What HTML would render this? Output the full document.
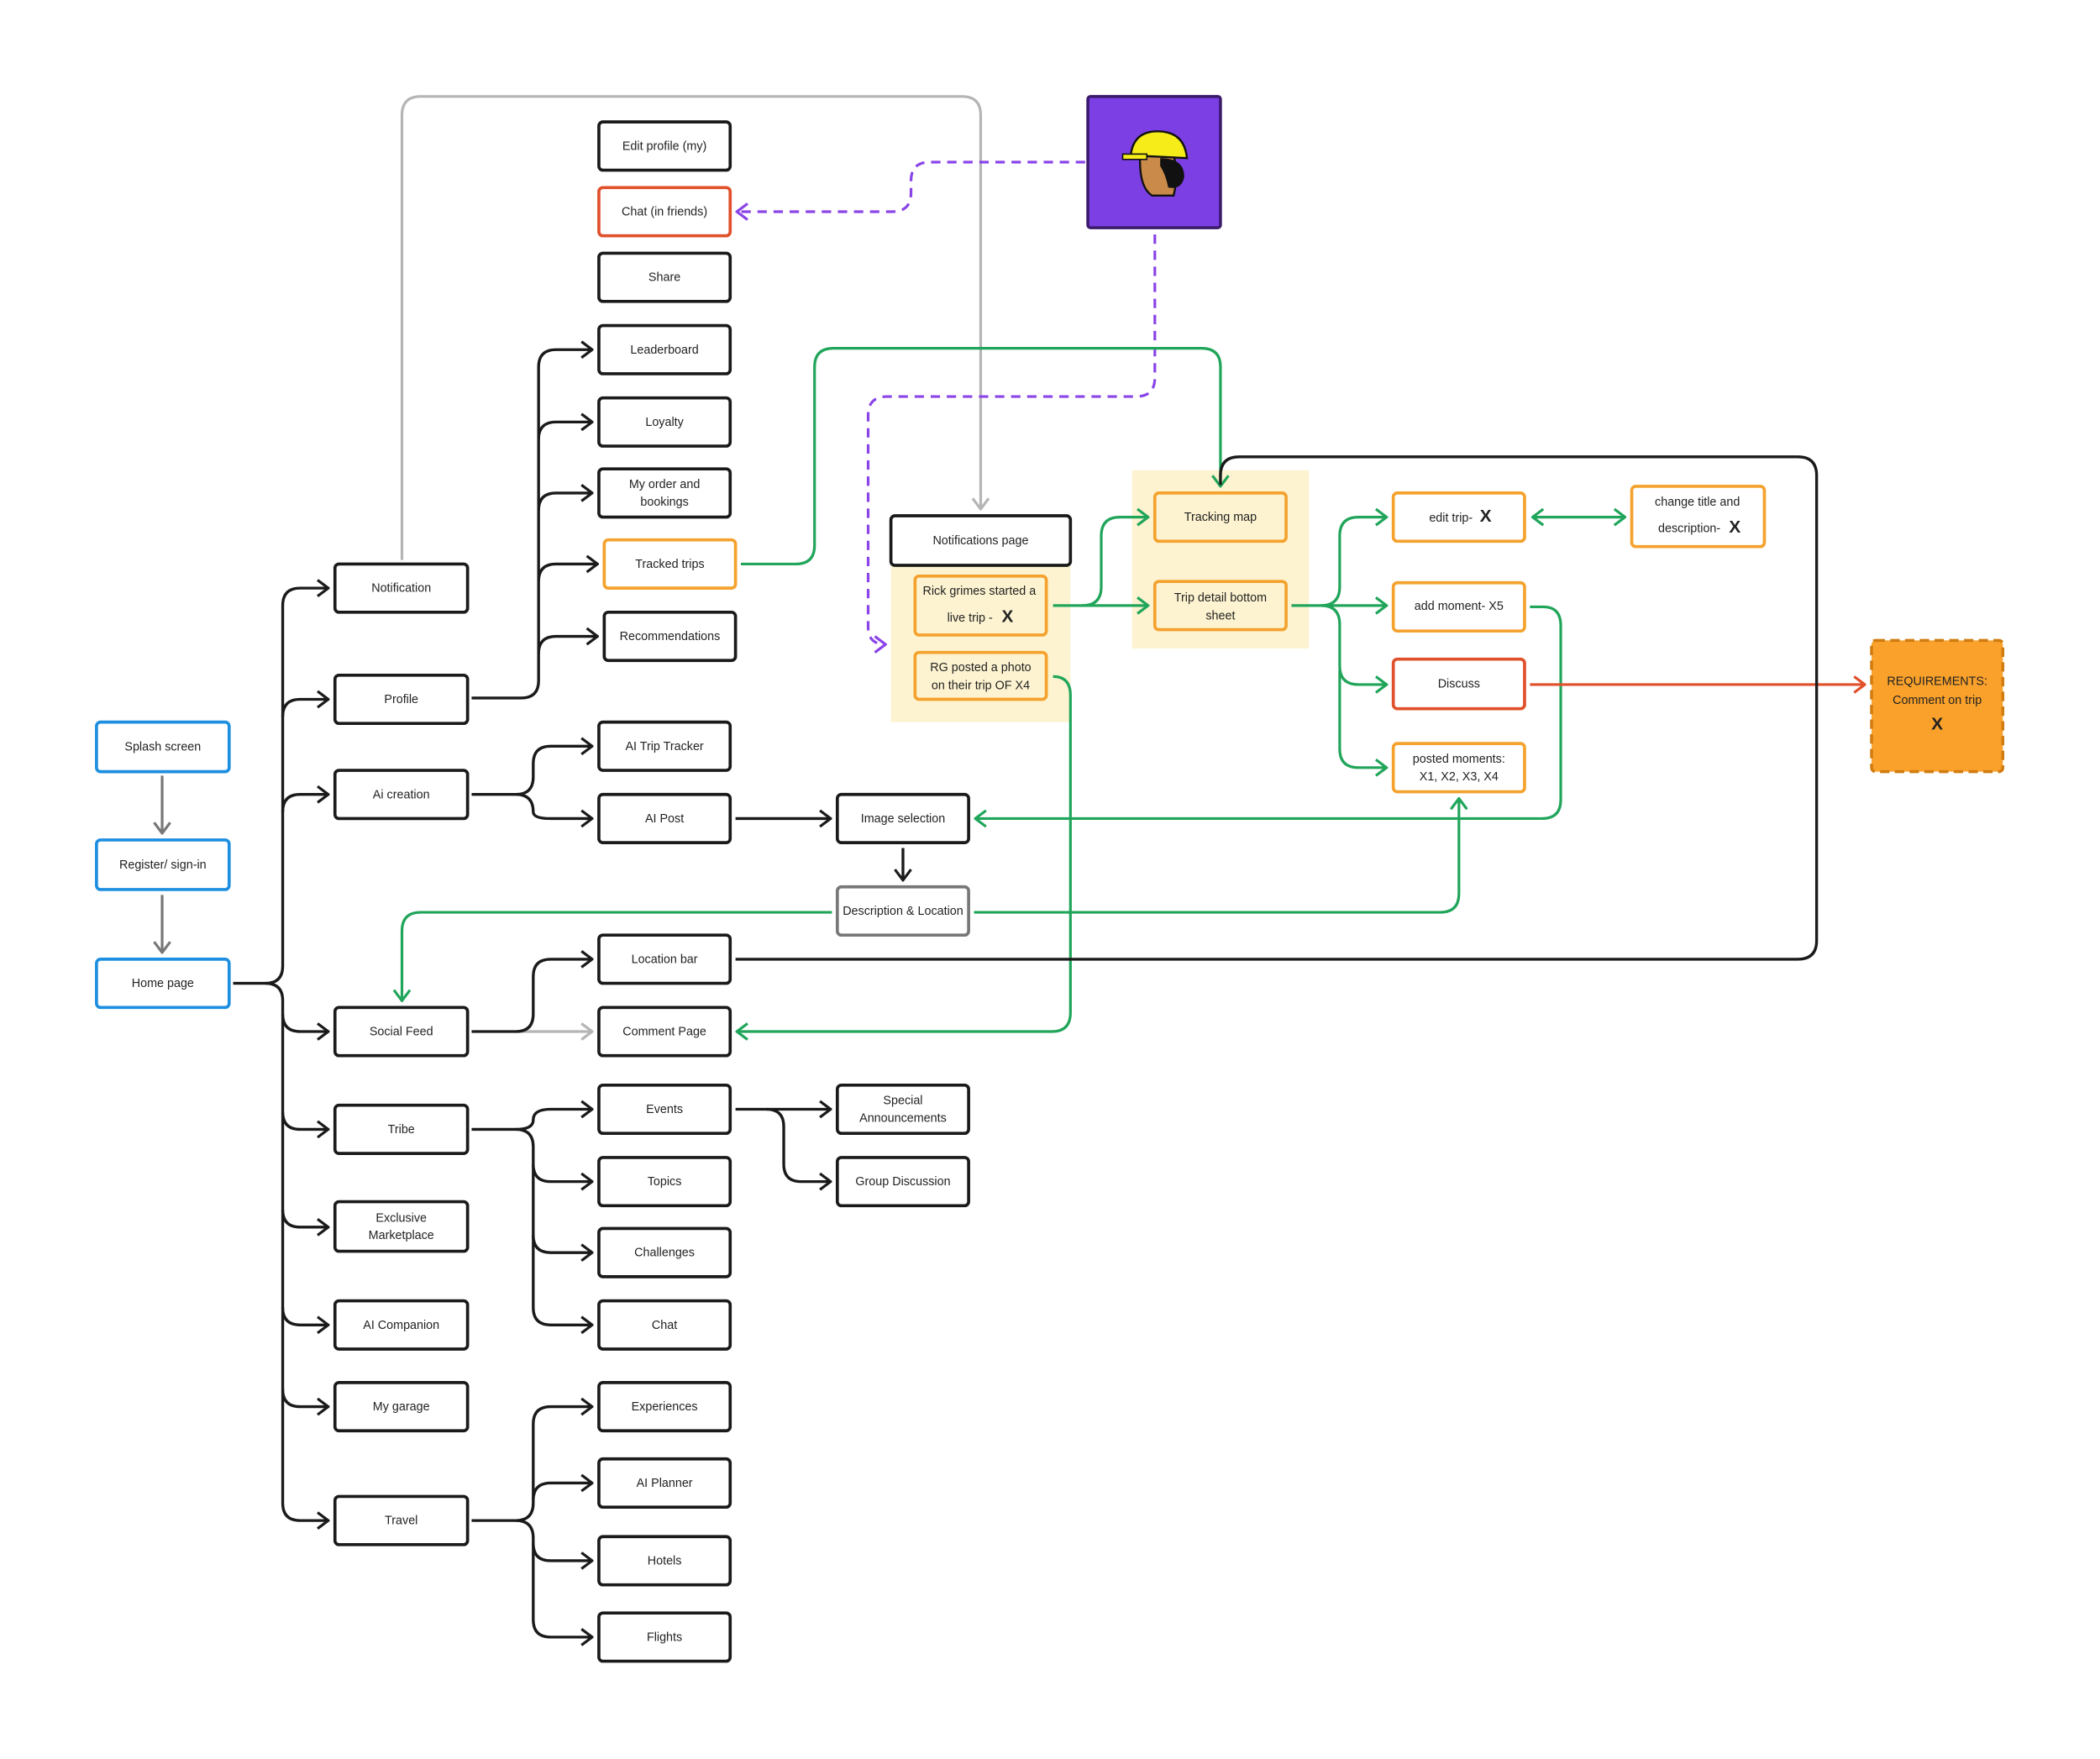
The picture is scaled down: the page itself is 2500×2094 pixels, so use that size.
<!DOCTYPE html>
<html><head><meta charset="utf-8"><style>
html,body{margin:0;padding:0;background:#fff;}
svg{display:block;}
text{font-family:"Liberation Sans",sans-serif;font-size:9px;fill:#222;text-anchor:middle;dominant-baseline:middle;}
.b{fill:#fff;stroke:#1a1a1a;stroke-width:2.3;}
.bl{fill:#fff;stroke:#1e8fe0;stroke-width:2.3;}
.o{fill:#fff;stroke:#f4a22d;stroke-width:2.3;}
.oy{fill:#fdf3d0;stroke:#f4a22d;stroke-width:2.3;}
.r{fill:#fff;stroke:#e0502a;stroke-width:2.3;}
.g{fill:#fff;stroke:#777;stroke-width:2.3;}
.k{fill:none;stroke:#1a1a1a;stroke-width:2.1;}
.gr{fill:none;stroke:#20a55a;stroke-width:2;}
.gy{fill:none;stroke:#777;stroke-width:2;}
.lg{fill:none;stroke:#b5b5b5;stroke-width:2;}
.pu{fill:none;stroke:#8a44e8;stroke-width:2;stroke-dasharray:7 5;}
.rd{fill:none;stroke:#e0502a;stroke-width:2;}
.X{font-weight:bold;font-size:13px;}
</style></head><body>
<svg width="2500" height="2094" viewBox="0 0 1567.5 1313" xmlns="http://www.w3.org/2000/svg">
<defs>
<marker id="mk" viewBox="0 0 10 14" refX="9" refY="7" markerWidth="10" markerHeight="14" markerUnits="userSpaceOnUse" orient="auto-start-reverse"><path d="M1,1 L9,7 L1,13" fill="none" stroke="#1a1a1a" stroke-width="2"/></marker>
<marker id="mg" viewBox="0 0 10 14" refX="9" refY="7" markerWidth="10" markerHeight="14" markerUnits="userSpaceOnUse" orient="auto-start-reverse"><path d="M1,1 L9,7 L1,13" fill="none" stroke="#20a55a" stroke-width="2"/></marker>
<marker id="my" viewBox="0 0 10 14" refX="9" refY="7" markerWidth="10" markerHeight="14" markerUnits="userSpaceOnUse" orient="auto-start-reverse"><path d="M1,1 L9,7 L1,13" fill="none" stroke="#777" stroke-width="2"/></marker>
<marker id="ml" viewBox="0 0 10 14" refX="9" refY="7" markerWidth="10" markerHeight="14" markerUnits="userSpaceOnUse" orient="auto-start-reverse"><path d="M1,1 L9,7 L1,13" fill="none" stroke="#b5b5b5" stroke-width="2"/></marker>
<marker id="mp" viewBox="0 0 10 14" refX="9" refY="7" markerWidth="10" markerHeight="14" markerUnits="userSpaceOnUse" orient="auto-start-reverse"><path d="M1,1 L9,7 L1,13" fill="none" stroke="#8a44e8" stroke-width="2"/></marker>
<marker id="mr" viewBox="0 0 10 14" refX="9" refY="7" markerWidth="10" markerHeight="14" markerUnits="userSpaceOnUse" orient="auto-start-reverse"><path d="M1,1 L9,7 L1,13" fill="none" stroke="#e0502a" stroke-width="2"/></marker>
</defs>

<rect x="665" y="420" width="134" height="119" fill="#fdf3d0"/>
<rect x="845" y="351" width="132" height="133" fill="#fdf3d0"/>

<path class="gy" d="M121,579 V622" marker-end="url(#my)"/>
<path class="gy" d="M121,668 V711" marker-end="url(#my)"/>
<path class="k" d="M174,734 H198 Q211,734 211,721 V452 Q211,439 224,439 H245" marker-end="url(#mk)"/>
<path class="k" d="M198,734 Q211,734 211,747 V1122 Q211,1135 224,1135 H245" marker-end="url(#mk)"/>
<path class="k" d="M211,535 Q211,522 224,522 H245" marker-end="url(#mk)"/>
<path class="k" d="M211,606 Q211,593 224,593 H245" marker-end="url(#mk)"/>
<path class="k" d="M211,757 Q211,770 224,770 H245" marker-end="url(#mk)"/>
<path class="k" d="M211,830 Q211,843 224,843 H245" marker-end="url(#mk)"/>
<path class="k" d="M211,903 Q211,916 224,916 H245" marker-end="url(#mk)"/>
<path class="k" d="M211,976 Q211,989 224,989 H245" marker-end="url(#mk)"/>
<path class="k" d="M211,1037 Q211,1050 224,1050 H245" marker-end="url(#mk)"/>
<path class="k" d="M352,521 H389 Q402,521 402,508 V274 Q402,261 415,261 H442" marker-end="url(#mk)"/>
<path class="k" d="M402,328 Q402,315 415,315 H442" marker-end="url(#mk)"/>
<path class="k" d="M402,381 Q402,368 415,368 H442" marker-end="url(#mk)"/>
<path class="k" d="M402,434 Q402,421 415,421 H446" marker-end="url(#mk)"/>
<path class="k" d="M402,488 Q402,475 415,475 H446" marker-end="url(#mk)"/>
<path class="k" d="M352,593 H385 Q398,593 398,580 V570 Q398,557 411,557 H442" marker-end="url(#mk)"/>
<path class="k" d="M385,593 Q398,593 398,606 Q398,611 411,611 H442" marker-end="url(#mk)"/>
<path class="k" d="M549,611 H620" marker-end="url(#mk)"/>
<path class="k" d="M674,633 V657" marker-end="url(#mk)"/>
<path class="lg" d="M385,770 H442" marker-end="url(#ml)"/>
<path class="k" d="M352,770 H385 Q398,770 398,757 V729 Q398,716 411,716 H442" marker-end="url(#mk)"/>
<path class="k" d="M352,843 H385 Q398,843 398,836 Q398,828 411,828 H442" marker-end="url(#mk)"/>
<path class="k" d="M385,843 Q398,843 398,856 V976 Q398,989 411,989 H442" marker-end="url(#mk)"/>
<path class="k" d="M398,869 Q398,882 411,882 H442" marker-end="url(#mk)"/>
<path class="k" d="M398,922 Q398,935 411,935 H442" marker-end="url(#mk)"/>
<path class="k" d="M549,828 H620" marker-end="url(#mk)"/>
<path class="k" d="M572,828 Q585,828 585,841 V869 Q585,882 598,882 H620" marker-end="url(#mk)"/>
<path class="k" d="M352,1135 H385 Q398,1135 398,1122 V1063 Q398,1050 411,1050 H442" marker-end="url(#mk)"/>
<path class="k" d="M385,1135 Q398,1135 398,1148 V1209 Q398,1222 411,1222 H442" marker-end="url(#mk)"/>
<path class="k" d="M398,1120 Q398,1107 411,1107 H442" marker-end="url(#mk)"/>
<path class="k" d="M398,1152 Q398,1165 411,1165 H442" marker-end="url(#mk)"/>
<path class="lg" d="M300,418 V86 Q300,72 314,72 H718 Q732,72 732,86 V380" marker-end="url(#ml)"/>
<path class="pu" d="M810,121 H694 Q680,121 680,135 V144 Q680,158 666,158 H550" marker-end="url(#mp)"/>
<path class="pu" d="M862,175 V282 Q862,296 848,296 H662 Q648,296 648,310 V468 Q648,481 661,481" marker-end="url(#mp)"/>
<path class="gr" d="M553,421 H594 Q608,421 608,407 V274 Q608,260 622,260 H897 Q911,260 911,274 V363" marker-end="url(#mg)"/>
<path class="gr" d="M786,452 H857" marker-end="url(#mg)"/>
<path class="gr" d="M808,452 Q822,452 822,438 V400 Q822,386 836,386 H857" marker-end="url(#mg)"/>
<path class="gr" d="M964,452 H1035" marker-end="url(#mg)"/>
<path class="gr" d="M986,452 Q1000,452 1000,438 V400 Q1000,386 1014,386 H1035" marker-end="url(#mg)"/>
<path class="gr" d="M986,452 Q1000,452 1000,466 V497 Q1000,511 1014,511 H1035" marker-end="url(#mg)"/>
<path class="gr" d="M1000,500 V559 Q1000,573 1014,573 H1035" marker-end="url(#mg)"/>
<path class="gr" d="M1144,386 H1213" marker-start="url(#mg)" marker-end="url(#mg)"/>
<path class="gr" d="M1142,453 H1152 Q1165,453 1165,467 V597 Q1165,611 1151,611 H728" marker-end="url(#mg)"/>
<path class="gr" d="M786,505 Q799,505 799,519 V756 Q799,770 785,770 H550" marker-end="url(#mg)"/>
<path class="gr" d="M621,681 H314 Q300,681 300,695 V747" marker-end="url(#mg)"/>
<path class="gr" d="M727,681 H1075 Q1089,681 1089,667 V596" marker-end="url(#mg)"/>
<path class="rd" d="M1142,511 H1392" marker-end="url(#mr)"/>
<path class="k" d="M549,716 H1342 Q1356,716 1356,702 V355 Q1356,341 1342,341 H925 Q911,341 911,355 V362"/>

<rect class="bl" x="72" y="539" width="99" height="37" rx="3"/><text x="121.5" y="558">Splash screen</text>
<rect class="bl" x="72" y="627" width="99" height="37" rx="3"/><text x="121.5" y="646">Register/ sign-in</text>
<rect class="bl" x="72" y="716" width="99" height="36" rx="3"/><text x="121.5" y="734.5">Home page</text>

<rect class="b" x="250" y="421" width="99" height="36" rx="3"/><text x="299.5" y="439.5">Notification</text>
<rect class="b" x="250" y="504" width="99" height="36" rx="3"/><text x="299.5" y="522.5">Profile</text>
<rect class="b" x="250" y="575" width="99" height="36" rx="3"/><text x="299.5" y="593.5">Ai creation</text>
<rect class="b" x="250" y="752" width="99" height="36" rx="3"/><text x="299.5" y="770.5">Social Feed</text>
<rect class="b" x="250" y="825" width="99" height="36" rx="3"/><text x="299.5" y="843.5">Tribe</text>
<rect class="b" x="250" y="897" width="99" height="37" rx="3"/><text x="299.5" y="909.5">Exclusive</text><text x="299.5" y="922.5">Marketplace</text>
<rect class="b" x="250" y="971" width="99" height="36" rx="3"/><text x="299.5" y="989.5">AI Companion</text>
<rect class="b" x="250" y="1032" width="99" height="36" rx="3"/><text x="299.5" y="1050.5">My garage</text>
<rect class="b" x="250" y="1117" width="99" height="36" rx="3"/><text x="299.5" y="1135.5">Travel</text>

<rect class="b" x="447" y="91" width="98" height="36" rx="3"/><text x="496" y="109.5">Edit profile (my)</text>
<rect class="r" x="447" y="140" width="98" height="36" rx="3"/><text x="496" y="158.5">Chat (in friends)</text>
<rect class="b" x="447" y="189" width="98" height="36" rx="3"/><text x="496" y="207.5">Share</text>
<rect class="b" x="447" y="243" width="98" height="36" rx="3"/><text x="496" y="261.5">Leaderboard</text>
<rect class="b" x="447" y="297" width="98" height="36" rx="3"/><text x="496" y="315.5">Loyalty</text>
<rect class="b" x="447" y="350" width="98" height="36" rx="3"/><text x="496" y="362">My order and</text><text x="496" y="375">bookings</text>
<rect class="o" x="451" y="403" width="98" height="36" rx="3"/><text x="500" y="421.5">Tracked trips</text>
<rect class="b" x="451" y="457" width="98" height="36" rx="3"/><text x="500" y="475.5">Recommendations</text>
<rect class="b" x="447" y="539" width="98" height="36" rx="3"/><text x="496" y="557.5">AI Trip Tracker</text>
<rect class="b" x="447" y="593" width="98" height="36" rx="3"/><text x="496" y="611.5">AI Post</text>
<rect class="b" x="447" y="698" width="98" height="36" rx="3"/><text x="496" y="716.5">Location bar</text>
<rect class="b" x="447" y="752" width="98" height="36" rx="3"/><text x="496" y="770.5">Comment Page</text>
<rect class="b" x="447" y="810" width="98" height="36" rx="3"/><text x="496" y="828.5">Events</text>
<rect class="b" x="447" y="864" width="98" height="36" rx="3"/><text x="496" y="882.5">Topics</text>
<rect class="b" x="447" y="917" width="98" height="36" rx="3"/><text x="496" y="935.5">Challenges</text>
<rect class="b" x="447" y="971" width="98" height="36" rx="3"/><text x="496" y="989.5">Chat</text>
<rect class="b" x="447" y="1032" width="98" height="36" rx="3"/><text x="496" y="1050.5">Experiences</text>
<rect class="b" x="447" y="1089" width="98" height="36" rx="3"/><text x="496" y="1107.5">AI Planner</text>
<rect class="b" x="447" y="1147" width="98" height="36" rx="3"/><text x="496" y="1165.5">Hotels</text>
<rect class="b" x="447" y="1204" width="98" height="36" rx="3"/><text x="496" y="1222.5">Flights</text>

<rect class="b" x="625" y="593" width="98" height="36" rx="3"/><text x="674" y="611.5">Image selection</text>
<rect class="g" x="625" y="662" width="98" height="36" rx="3"/><text x="674" y="680.5">Description &amp; Location</text>
<rect class="b" x="625" y="810" width="98" height="36" rx="3"/><text x="674" y="822">Special</text><text x="674" y="835">Announcements</text>
<rect class="b" x="625" y="864" width="98" height="36" rx="3"/><text x="674" y="882.5">Group Discussion</text>

<rect class="b" x="665" y="385" width="134" height="37" rx="3"/><text x="732" y="404">Notifications page</text>
<rect class="oy" x="683" y="430" width="98" height="44" rx="3"/><text x="731" y="441.5">Rick grimes started a</text><text x="724" y="461.5">live trip - </text><text class="X" x="752" y="461">X</text>
<rect class="oy" x="683" y="487" width="98" height="35" rx="3"/><text x="732" y="498.5">RG posted a photo</text><text x="732" y="512">on their trip OF X4</text>

<rect class="oy" x="862" y="368" width="98" height="36" rx="3"/><text x="911" y="386.5">Tracking map</text>
<rect class="oy" x="862" y="434" width="98" height="36" rx="3"/><text x="911" y="446.5">Trip detail bottom</text><text x="911" y="460">sheet</text>

<rect class="o" x="1040" y="368" width="98" height="36" rx="3"/><text x="1083" y="387">edit trip- </text><text class="X" x="1109" y="386">X</text>
<rect class="o" x="1218" y="363" width="99" height="45" rx="3"/><text x="1267" y="375">change title and</text><text x="1261" y="395">description- </text><text class="X" x="1295" y="394">X</text>
<rect class="o" x="1040" y="435" width="98" height="36" rx="3"/><text x="1089" y="453">add moment- X5</text>
<rect class="r" x="1040" y="492" width="98" height="37" rx="3"/><text x="1089" y="511">Discuss</text>
<rect class="o" x="1040" y="555" width="98" height="36" rx="3"/><text x="1089" y="567">posted moments:</text><text x="1089" y="580">X1, X2, X3, X4</text>

<rect x="1397" y="478" width="98" height="98" rx="3" fill="#f9a12b" stroke="#d07c10" stroke-width="2.2" stroke-dasharray="7 4"/>
<text x="1446" y="509">REQUIREMENTS:</text><text x="1446" y="523">Comment on trip</text><text class="X" x="1446" y="541">X</text>

<rect x="812" y="72" width="99" height="98" rx="2" fill="#7b3fe4" stroke="#3a1a6a" stroke-width="2.2"/>
<path d="M851,116 Q850,140 860,146 L876,146 Q880,130 876,116 Z" fill="#c98a4a" stroke="#111" stroke-width="1.5"/>
<path d="M866,118 Q884,118 884,132 Q882,142 872,140 Q870,130 866,124 Z" fill="#111"/>
<path d="M844,116 Q846,98 864,98 Q884,98 886,118 Z" fill="#f5ec1a" stroke="#111" stroke-width="1.5"/>
<rect x="838" y="115" width="18" height="4" fill="#f5ec1a" stroke="#111" stroke-width="1"/>
</svg>
</body></html>
